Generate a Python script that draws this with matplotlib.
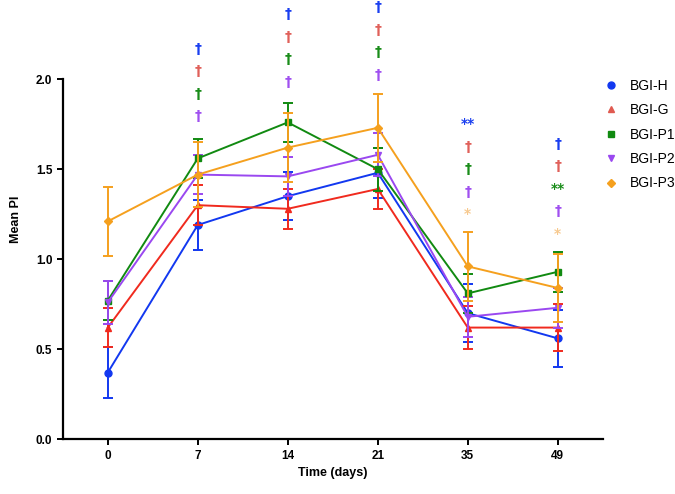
import matplotlib.pyplot as plt
import numpy as np

plt.rcParams["font.family"] = ["Liberation Sans", "DejaVu Sans"]

days = ["0", "7", "14", "21", "35", "49"]
groups = ["BGI-H", "BGI-G", "BGI-P1", "BGI-P2", "BGI-P3"]

mean_h = [0.37, 1.19, 1.35, 1.48, 0.70, 0.56]
mean_g = [0.62, 1.30, 1.28, 1.39, 0.62, 0.62]
mean_p1 = [0.77, 1.56, 1.76, 1.50, 0.81, 0.93]
mean_p2 = [0.76, 1.47, 1.46, 1.58, 0.68, 0.73]
mean_p3 = [1.21, 1.47, 1.62, 1.73, 0.96, 0.84]

err_h = [0.14, 0.14, 0.135, 0.14, 0.16, 0.16]
err_g = [0.11, 0.11, 0.11, 0.11, 0.12, 0.13]
err_p1 = [0.11, 0.11, 0.11, 0.12, 0.11, 0.11]
err_p2 = [0.12, 0.11, 0.11, 0.12, 0.11, 0.11]
err_p3 = [0.19, 0.18, 0.19, 0.19, 0.19, 0.19]

# significance marks per day, in group order H, G, P1, P2, P3
sig_7 = ["†", "†", "†", "†", ""]
sig_14 = ["†", "†", "†", "†", ""]
sig_21 = ["†", "†", "†", "†", ""]
sig_35 = ["**", "†", "†", "†", "*"]
sig_49 = ["†", "†", "**", "†", "*"]

means = [mean_h, mean_g, mean_p1, mean_p2, mean_p3]
errs = [err_h, err_g, err_p1, err_p2, err_p3]

LINE_COLORS = ["#1238f0", "#f02a1e", "#118a11", "#9a48f0", "#f5a01e"]
MARK_COLORS = ["#1a3ff0", "#e0605a", "#1a8c1a", "#a050f0", "#f7c98f"]
LEGEND_COLORS = ["#1238f0", "#e05a50", "#118a11", "#9a48f0", "#f5a01e"]
MARKERS = ["o", "^", "s", "v", "D"]
MSIZE = [5, 5, 5, 5, 4]

fig = plt.figure(figsize=(6.75, 4.94), dpi=100)
ax = fig.add_axes([0.093, 0.111, 0.800, 0.889])

x = np.arange(len(days))
for i in range(len(groups)):
    ax.errorbar(x, means[i], yerr=errs[i], color=LINE_COLORS[i], marker=MARKERS[i],
                markersize=MSIZE[i], lw=1.4, elinewidth=1.4, capsize=3.6, capthick=1.4,
                label=groups[i], zorder=3 + i * 0.1)

# annotation columns: first row height (axis units) and row step
sig_cols = [(1, sig_7, 2.17), (2, sig_14, 2.36), (3, sig_21, 2.40),
            (4, sig_35, 1.75), (5, sig_49, 1.64)]
STEP = 0.125
for xi, marks, top in sig_cols:
    row = 0
    for g, m in enumerate(marks):
        if not m:
            continue
        y = top - row * STEP
        ax.text(xi, y, m, ha="center", va="center", fontsize=10,
                fontweight="bold", color=MARK_COLORS[g], family=["DejaVu Sans"])
        row += 1

ax.set_xlim(-0.5, 5.5)
ax.set_ylim(0, 2.44)
ax.set_xticks(x)
ax.set_xticklabels(days)
ax.set_yticks([0.0, 0.5, 1.0, 1.5, 2.0])
ax.set_yticklabels(["0.0", "0.5", "1.0", "1.5", "2.0"])
for s in ["top", "right"]:
    ax.spines[s].set_visible(False)
ax.spines["left"].set_bounds(0, 2.0)
ax.spines["left"].set_linewidth(1.6)
ax.spines["bottom"].set_linewidth(1.6)
ax.tick_params(axis="both", width=1.4, length=4, labelsize=8.5)
for lab in ax.get_xticklabels() + ax.get_yticklabels():
    lab.set_fontweight("bold")
ax.set_xlabel("Time (days)", fontsize=9, fontweight="bold", labelpad=4)
ax.set_ylabel("Mean PI", fontsize=9, fontweight="bold", labelpad=10)

handles = [plt.Line2D([], [], ls="none", marker=MARKERS[i], color=LEGEND_COLORS[i],
                      markersize=MSIZE[i]) for i in range(len(groups))]
fig.legend(handles, groups, loc="upper left", bbox_to_anchor=(0.876, 0.866),
           frameon=False, fontsize=10, handletextpad=0.9, labelspacing=0.75,
           handlelength=1.0)

fig.savefig("out.png", dpi=100)
